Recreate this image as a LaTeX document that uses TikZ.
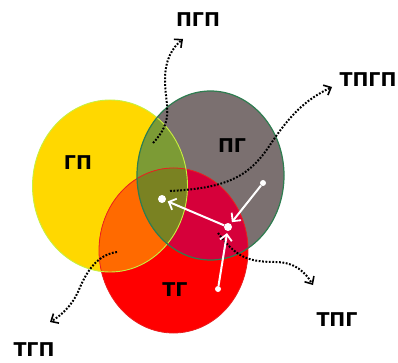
\documentclass[tikz,border=0pt]{standalone}
\usepackage{fontspec}
\setmainfont{DejaVu Sans}
\usetikzlibrary{arrows.meta}
\definecolor{cY}{HTML}{FFD800}
\definecolor{cG}{HTML}{7B7070}
\definecolor{cR}{HTML}{FF0000}
\definecolor{cYG}{HTML}{7C9B35}
\definecolor{cYR}{HTML}{FF6A00}
\definecolor{cGR}{HTML}{D6003A}
\definecolor{cYGR}{HTML}{7A8222}
\definecolor{bY}{HTML}{C8F040}
\definecolor{bG}{HTML}{2E7D50}
\definecolor{bR}{HTML}{E82020}
\tikzset{
  lbl/.style={font=\bfseries\fontsize{19}{19}\selectfont, inner sep=0pt},
  dotarrow/.style={draw=black, line width=2pt, dash pattern=on 1.8pt off 1.6pt, -{Straight Barb[length=6pt,width=11pt,line width=1.6pt]}},
  wharrow/.style={draw=white, line width=2pt, -{Straight Barb[length=6pt,width=12pt,line width=1.8pt]}, shorten >=2pt},
  wdot/.style={circle, fill=white, inner sep=0pt},
}
\newcommand\circY{(110,186) ellipse [x radius=77.5, y radius=86]}
\newcommand\circG{(210.5,175.5) ellipse [x radius=73.5, y radius=84.5]}
\newcommand\circR{(173.5,250.5) ellipse [x radius=74.5, y radius=82.5]}
\begin{document}
\begin{tikzpicture}[x=1pt,y=-1pt]
\useasboundingbox (0,0) rectangle (398,363);
% regions
\fill[cY] \circY;
\fill[cG] \circG;
\fill[cR] \circR;
\begin{scope} \clip \circY; \fill[cYG] \circG; \end{scope}
\begin{scope} \clip \circY; \fill[cYR] \circR; \end{scope}
\begin{scope} \clip \circG; \fill[cGR] \circR; \end{scope}
\begin{scope} \clip \circY; \clip \circG; \fill[cYGR] \circR; \end{scope}
\draw[bR, line width=0.8pt] \circR;
\draw[bY, line width=0.9pt] \circY;
\draw[bG, line width=1.2pt] \circG;
% labels
\node[lbl] (gp) at (78,163) {ГП};
\node[lbl] (pg) at (232,146) {ПГ};
\node[lbl] (tg) at (175,290) {ТГ};
\node[lbl] (pgp) at (198,20) {ПГП};
\node[lbl] (tpgp) at (368,80) {ТПГП};
\node[lbl] (tpg) at (337,320) {ТПГ};
\node[lbl] (tgp) at (34,350) {ТГП};
% dotted arrows
\coordinate (s1) at (153,143);
\coordinate (e1) at (183,39);
\coordinate (s2) at (170,191);
\coordinate (e2) at (332,87);
\coordinate (s3) at (117,252);
\coordinate (e3) at (50,322);
\coordinate (s4) at (218,233);
\coordinate (e4) at (313,285);
\draw[dotarrow] (s1) .. controls (175,120) and (165,105) .. (165,80) .. controls (165,60) and (172,48) .. (e1);
\draw[dotarrow] (s2) .. controls (230,188) and (250,175) .. (270,145) .. controls (290,115) and (305,100) .. (e2);
\draw[dotarrow] (s3) .. controls (95,255) and (85,275) .. (78,292) .. controls (72,305) and (62,315) .. (e3);
\draw[dotarrow] (s4) .. controls (235,255) and (245,262) .. (275,262) .. controls (295,262) and (305,272) .. (e4);
% white arrows
\node[wdot, minimum size=8pt] (a) at (162,199) {};
\node[wdot, minimum size=8pt] (b) at (228,227) {};
\node[wdot, minimum size=6pt] (c) at (263,183) {};
\node[wdot, minimum size=6pt] (d) at (218,289) {};
\draw[wharrow] (b) -- (a);
\draw[wharrow] (c) -- (b);
\draw[wharrow] (d) -- (b);
\end{tikzpicture}
\end{document}
